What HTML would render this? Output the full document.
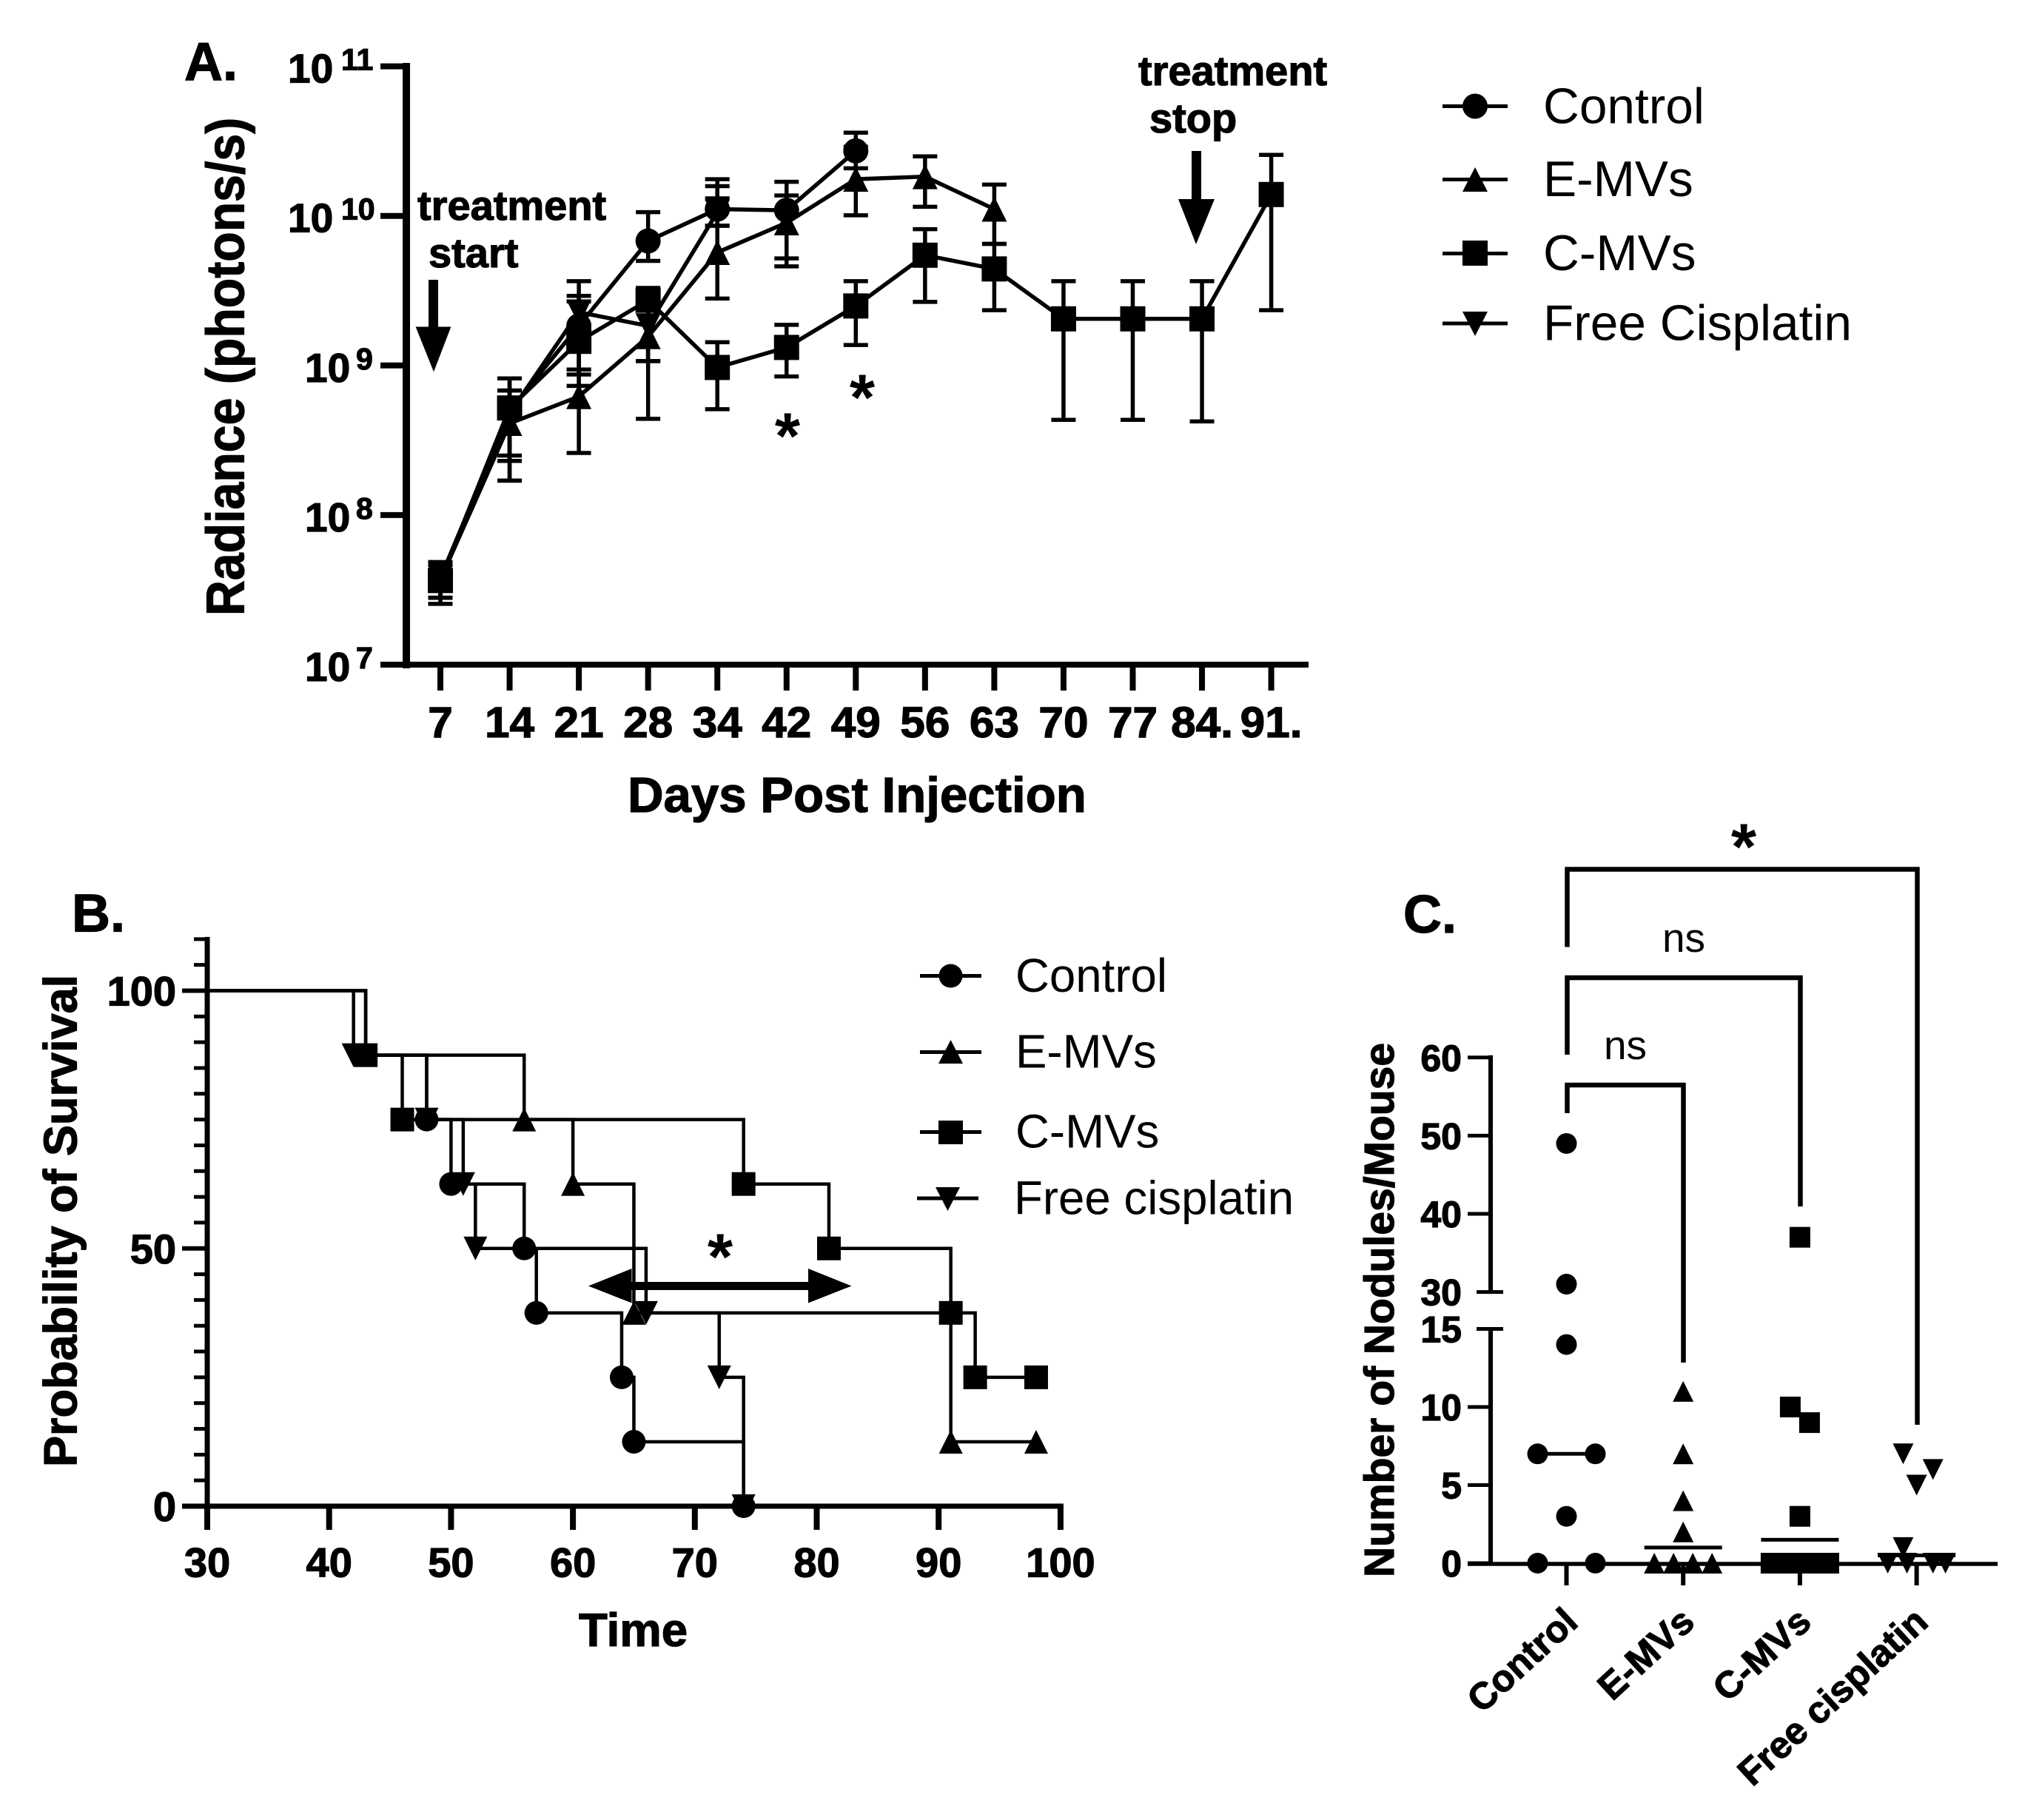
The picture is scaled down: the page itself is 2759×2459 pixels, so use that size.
<!DOCTYPE html>
<html lang="en">
<head>
<meta charset="utf-8">
<title>Radiance, survival and nodules charts</title>
<style>
html,body{margin:0;padding:0;background:#fff;}
svg{display:block;}
text{font-family:"Liberation Sans",sans-serif;fill:#000;}
.b{font-weight:700;stroke:#000;stroke-width:1.2px;}
.s{font-weight:700;}
</style>
</head>
<body>
<svg id="fig" xmlns="http://www.w3.org/2000/svg" width="2759" height="2459" viewBox="0 0 2759 2459">
<rect width="2759" height="2459" fill="#fff"/>

<!-- Panel A static -->
<g id="panelA">
<text class="b" x="249" y="108" font-size="72">A.</text>
<text class="b" font-size="72" transform="translate(329.5,832) rotate(-90) scale(.92,1)">Radiance (photons/s)</text>
<text class="b" x="848" y="1097" font-size="67.2">Days Post Injection</text>
<text class="b" x="564" y="297" font-size="56">treatment</text>
<text class="b" x="579" y="361" font-size="56">start</text>
<path d="M579 378H592V441.5H609.4L586 502.4L561.6 441.5H579Z" fill="#000"/>
<text class="b" x="1538" y="115" font-size="56">treatment</text>
<text class="b" x="1553" y="179" font-size="56">stop</text>
<path d="M1610 204H1623V269H1641L1616 330L1592 269H1610Z" fill="#000"/>
<text class="s" x="1064" y="619" font-size="88" text-anchor="middle">*</text>
<text class="s" x="1165" y="567" font-size="88" text-anchor="middle">*</text>
</g>

<!-- Legend A -->
<g font-size="67.6">
<g>
<path d="M1949 143.5H2037" stroke="#000" stroke-width="5"/><ellipse cx="1993" cy="143.5" rx="17" ry="17"/>
<text x="2085" y="166.5">Control</text></g>
<g>
<path d="M1949 242.5H2037" stroke="#000" stroke-width="5"/><polygon points="1993,226 2010,259 1976,259"/>
<text x="2085" y="265">E-MVs</text></g>
<g>
<path d="M1949 342.5H2037" stroke="#000" stroke-width="5"/><rect x="1976" y="325" width="34" height="34"/>
<text x="2085" y="365">C-MVs</text></g>
<g>
<path d="M1949 437H2037" stroke="#000" stroke-width="5"/><polygon points="1976,421 2010,421 1993,454"/>
<text x="2085" y="459.5">Free Cisplatin</text></g>
</g>

<!-- Panel B static -->
<g id="panelB">
<text class="b" x="97" y="1258.5" font-size="72">B.</text>
<text class="b" font-size="63" transform="translate(103.5,1982) rotate(-90)">Probability of Survival</text>
<text class="b" x="782" y="2224" font-size="63.5">Time</text>
</g>

<!-- Legend B -->
<g font-size="63.6">
<g>
<path d="M1243 1318.5H1326" stroke="#000" stroke-width="5"/><ellipse cx="1284.5" cy="1318.5" rx="16" ry="16"/>
<text x="1372" y="1340">Control</text></g>
<g>
<path d="M1243 1421.5H1326" stroke="#000" stroke-width="5"/><polygon points="1284.5,1405 1301,1437 1268,1437"/>
<text x="1372" y="1442.5">E-MVs</text></g>
<g>
<path d="M1243 1529.5H1326" stroke="#000" stroke-width="5"/><rect x="1268" y="1514" width="33" height="32"/>
<text x="1372" y="1550.5">C-MVs</text></g>
<g>
<path d="M1239 1619H1322" stroke="#000" stroke-width="5"/><polygon points="1264,1604 1297,1604 1280.5,1636"/>
<text x="1370" y="1640.5">Free cisplatin</text></g>
</g>

<!-- Panel C static -->
<g id="panelC">
<text class="b" x="1896" y="1260" font-size="72">C.</text>
<text class="b" font-size="57" transform="translate(1883,2131) rotate(-90)">Number of Nodules/Mouse</text>
<path d="M2117.5 1279.5V1174.5H2590.5V1925" fill="none" stroke="#000" stroke-width="6.5"/>
<path d="M2117.5 1425V1321H2432.5V1630" fill="none" stroke="#000" stroke-width="6.5"/>
<path d="M2117.5 1504V1466H2274.5V1841" fill="none" stroke="#000" stroke-width="6.5"/>
<text class="s" x="2356" y="1174" font-size="88" text-anchor="middle">*</text>
<text x="2275" y="1286" font-size="55" text-anchor="middle">ns</text>
<text x="2196" y="1431" font-size="55" text-anchor="middle">ns</text>
</g>
</svg>

<script>
// ---------- Panel A data (radiance, photons/s) ----------
const aDays = ['7','14','21','28','34','42','49','56','63','70','77','84.','91.'];
const aDecades = [7,8,9,10,11];

const controlMean  = [3.7e7,5.0e8,1.84e9,6.8e9,1.11e10,1.09e10,2.72e10];
const controlUpper = [4.85e7,8.2e8,3.66e9,1.06e10,1.58e10,1.69e10,3.6e10];
const controlLower = [2.8e7,2.3e8,9.4e8,5.0e9,8.6e9,5.2e9,2.08e10];

const eMvsMean  = [3.7e7,4.1e8,6.2e8,1.56e9,5.7e9,9.0e9,1.76e10,1.83e10,1.11e10];
const eMvsUpper = [4.65e7,6.8e8,9.4e8,2.37e9,1.31e10,1.37e10,2.9e10,2.5e10,1.62e10];
const eMvsLower = [2.8e7,1.7e8,2.6e8,1.07e9,2.8e9,4.6e9,1.01e10,1.15e10,6.5e9];

const cMvsMean  = [3.65e7,5.2e8,1.45e9,2.73e9,9.7e8,1.32e9,2.5e9,5.46e9,4.42e9,2.05e9,2.05e9,2.05e9,1.39e10];
const cMvsUpper = [4.65e7,8.2e8,2.92e9,3.3e9,1.43e9,1.87e9,3.66e9,8.15e9,6.5e9,3.66e9,3.66e9,3.66e9,2.56e10];
const cMvsLower = [2.55e7,1.7e8,7.3e8,4.4e8,5.1e8,8.45e8,1.37e9,2.66e9,2.34e9,4.33e8,4.33e8,4.23e8,2.34e9];

const freeMean  = [3.8e7,4.8e8,2.27e9,1.84e9,1.06e10];
const freeUpper = [4.65e7,6.8e8,2.68e9,2.57e9,1.76e10];
const freeLower = [2.8e7,2.5e8,8.7e8,1.07e9,8.6e9];

// ---------- Panel B data (Kaplan-Meier) ----------
const bXTicks = [30,40,50,60,70,80,90,100];
const bYLabels = [0,50,100];
const kmControlTime = [30,43,48,50,56,57,64,65,74];
const kmControlSurv = [100,87.5,75,62.5,50,37.5,25,12.5,0];
const kmEMvsTime = [30,43,56,60,65,91,98];
const kmEMvsSurv = [100,87.5,75,62.5,37.5,12.5,12.5];
const kmCMvsTime = [30,43,46,74,81,91,93,98];
const kmCMvsSurv = [100,87.5,75,62.5,50,37.5,25,25];
const kmFreeTime = [30,42,48,51,52,66,72,74];
const kmFreeSurv = [100,87.5,75,62.5,50,37.5,25,0];

// ---------- Panel C data (nodules per mouse) ----------
const cCategories = ['Control','E-MVs','C-MVs','Free cisplatin'];
const cYTicks = [0,5,10,15,30,40,50,60];
const nodControl = [49,31,14,7,7,3,0,0];
const nodEMvs = [11,7,4,2,0,0,0,0];
const nodCMvs = [37,10,9,3,0,0,0,0];
const nodFree = [7,6,5,1,0,0,0,0];
const swarmControl = [0,0,0,-3,3,0,-3,3];
const swarmEMvs = [0,0,0,0,-3,-1,1,3];
const swarmCMvs = [0,-1,1,0,-3,-1,1,3];
const swarmFree = [-1.4,1.7,0,-1.4,-3,-1,1.7,3];
const nodCentre = [7,1,1.5,0.5];

// ---------- helpers ----------
const NS = 'http://www.w3.org/2000/svg';
const fig = document.getElementById('fig');
const panelA = document.getElementById('panelA');
const panelB = document.getElementById('panelB');
const panelC = document.getElementById('panelC');

function mk(tag, attrs, parent) {
  const el = document.createElementNS(NS, tag);
  for (const k in attrs) el.setAttribute(k, attrs[k]);
  parent.appendChild(el);
  return el;
}
function markerEl(kind, cx, cy, w, h, parent) {
  if (kind === 'circle') return mk('ellipse', {cx: cx, cy: cy, rx: w/2, ry: h/2}, parent);
  if (kind === 'square') return mk('rect', {x: cx-w/2, y: cy-h/2, width: w, height: h}, parent);
  if (kind === 'up') return mk('polygon', {points: [cx, cy-h/2, cx+w/2, cy+h/2, cx-w/2, cy+h/2].join(' ')}, parent);
  return mk('polygon', {points: [cx-w/2, cy-h/2, cx+w/2, cy-h/2, cx, cy+h/2].join(' ')}, parent);
}

// ---------- Panel A scales ----------
const xA = i => 595 + i * 93.55;
const yA = v => 898 - 202.1 * (Math.log10(v) - 7);

let el;
el = mk('path', {d: 'M549 85V903', stroke: '#000', 'stroke-width': 10, fill: 'none'}, panelA);


el = mk('path', {d: 'M514 898H1768', stroke: '#000', 'stroke-width': 8, fill: 'none'}, panelA);



aDecades.forEach(function (d) {
  const y = yA(Math.pow(10, d));
  let t = mk('path', {d: 'M514 ' + y + 'H549', stroke: '#000', 'stroke-width': 8}, panelA);
  
  
  const two = d >= 10;
  t = mk('text', {x: two ? 389 : 412, y: y + 22, 'font-size': 55, 'class': 'b'}, panelA);
  t.textContent = '10';
  
  
  t = mk('text', {x: two ? 461 : 481, y: y + 5, 'font-size': 41, 'class': 'b'}, panelA);
  t.textContent = String(d);
  
  
});

aDays.forEach(function (d, i) {
  const x = xA(i);
  let t = mk('path', {d: 'M' + x + ' 898V933', stroke: '#000', 'stroke-width': 8}, panelA);
  
  
  t = mk('text', {'font-size': 58, 'class': 'b', 'text-anchor': 'middle', transform: 'translate(' + x + ',996) scale(1.04,1)'}, panelA);
  t.textContent = d;
  
  
});

const aSeries = [
  {key: 'control', kind: 'circle', mean: controlMean, up: controlUpper, lo: controlLower},
  {key: 'e-mvs', kind: 'up', mean: eMvsMean, up: eMvsUpper, lo: eMvsLower},
  {key: 'c-mvs', kind: 'square', mean: cMvsMean, up: cMvsUpper, lo: cMvsLower},
  {key: 'free-cisplatin', kind: 'down', mean: freeMean, up: freeUpper, lo: freeLower}
];
aSeries.forEach(function (s) {
  s.mean.forEach(function (v, i) {
    const x = xA(i);
    const top = yA(s.up[i]), bot = yA(s.lo[i]);
    const bar = mk('path', {
      d: 'M' + x + ' ' + top + 'V' + bot + 'M' + (x-16.5) + ' ' + top + 'H' + (x+16.5) + 'M' + (x-16.5) + ' ' + bot + 'H' + (x+16.5),
      stroke: '#000', 'stroke-width': 5.5, fill: 'none'}, panelA);
    
    
  });
  const line = mk('polyline', {
    points: s.mean.map(function (v, i) { return xA(i) + ',' + yA(v); }).join(' '),
    fill: 'none', stroke: '#000', 'stroke-width': 5.5}, panelA);
  
  
  s.mean.forEach(function (v, i) {
    const m = markerEl(s.kind, xA(i), yA(v), 34, 34, panelA);
    
    
  });
});

// ---------- Panel B scales ----------
const xB = t => 280 + (t - 30) * 16.47;
const yB = p => 2035 - p * 6.965;

el = mk('path', {d: 'M280 ' + (yB(110) - 3) + 'V2039', stroke: '#000', 'stroke-width': 7, fill: 'none'}, panelB);


el = mk('path', {d: 'M246 2035H' + (xB(100) + 4), stroke: '#000', 'stroke-width': 7, fill: 'none'}, panelB);



for (let p = 5; p <= 110; p += 5) {
  if (bYLabels.indexOf(p) >= 0) continue;
  const t = mk('path', {d: 'M262 ' + yB(p) + 'H280', stroke: '#000', 'stroke-width': 5}, panelB);
  
  
}
bYLabels.forEach(function (p) {
  let t = mk('path', {d: 'M246 ' + yB(p) + 'H280', stroke: '#000', 'stroke-width': 6}, panelB);
  
  
  t = mk('text', {x: 238, y: yB(p) + 20, 'font-size': 56, 'class': 'b', 'text-anchor': 'end'}, panelB);
  t.textContent = String(p);
  
  
});
bXTicks.forEach(function (v) {
  let t = mk('path', {d: 'M' + xB(v) + ' 2035V2067', stroke: '#000', 'stroke-width': 8}, panelB);
  
  
  t = mk('text', {x: xB(v), y: 2130.5, 'font-size': 56, 'class': 'b', 'text-anchor': 'middle'}, panelB);
  t.textContent = String(v);
  
  
});

const bSeries = [
  {key: 'km-control', kind: 'circle', t: kmControlTime, s: kmControlSurv},
  {key: 'km-e-mvs', kind: 'up', t: kmEMvsTime, s: kmEMvsSurv},
  {key: 'km-c-mvs', kind: 'square', t: kmCMvsTime, s: kmCMvsSurv},
  {key: 'km-free-cisplatin', kind: 'down', t: kmFreeTime, s: kmFreeSurv}
];
bSeries.forEach(function (s) {
  let d = 'M' + xB(s.t[0]) + ' ' + yB(s.s[0]);
  for (let i = 1; i < s.t.length; i++) d += 'H' + xB(s.t[i]) + 'V' + yB(s.s[i]);
  const step = mk('path', {d: d, fill: 'none', stroke: '#000', 'stroke-width': 4.5}, panelB);
  
  
  for (let i = 1; i < s.t.length; i++) {
    const m = markerEl(s.kind, xB(s.t[i]), yB(s.s[i]), 32, 32, panelB);
    
    
  }
});

el = mk('path', {d: 'M795 1737.5L853.5 1714V1732H1092V1714L1150.5 1737.5L1092 1760.5V1743H853.5V1760.5Z', fill: '#000'}, panelB);


el = mk('text', {x: 973, y: 1728, 'font-size': 88, 'class': 's', 'text-anchor': 'middle'}, panelB);
el.textContent = '*';



// ---------- Panel C scales ----------
const xC = i => 2116.5 + i * 157.7;
const yC = v => v <= 15 ? 2112 - 21.1 * v : 1745.6 - (v - 30) * 10.56;

el = mk('path', {d: 'M2014 ' + (yC(60) - 3) + 'V' + yC(30), stroke: '#000', 'stroke-width': 6, fill: 'none'}, panelC);


el = mk('path', {d: 'M2014 ' + yC(15) + 'V2112', stroke: '#000', 'stroke-width': 6, fill: 'none'}, panelC);


el = mk('path', {d: 'M1983 2113H2699', stroke: '#000', 'stroke-width': 5.5, fill: 'none'}, panelC);



cYTicks.forEach(function (v) {
  const y = yC(v);
  const brk = (v === 30 || v === 15);
  let t = mk('path', {d: 'M' + (brk ? 1995 : 1983) + ' ' + y + 'H' + (brk ? 2031 : 2014), stroke: '#000', 'stroke-width': 5}, panelC);
  
  
  t = mk('text', {x: 1975, y: y + 18, 'font-size': 50, 'class': 'b', 'text-anchor': 'end'}, panelC);
  t.textContent = String(v);
  
  
});

cCategories.forEach(function (c, i) {
  let t = mk('path', {d: 'M' + xC(i) + ' 2112V2142', stroke: '#000', 'stroke-width': 6}, panelC);
  
  
  t = mk('text', {'font-size': 50.5, 'class': 'b', 'text-anchor': 'end', transform: 'translate(' + (xC(i) + 18) + ',2195) rotate(-42.5)'}, panelC);
  t.textContent = c;
  
  
});

const cSeries = [
  {key: 'nodules-control', kind: 'circle', v: nodControl, s: swarmControl},
  {key: 'nodules-e-mvs', kind: 'up', v: nodEMvs, s: swarmEMvs},
  {key: 'nodules-c-mvs', kind: 'square', v: nodCMvs, s: swarmCMvs},
  {key: 'nodules-free-cisplatin', kind: 'down', v: nodFree, s: swarmFree}
];
cSeries.forEach(function (s, i) {
  s.v.forEach(function (v, j) {
    const m = markerEl(s.kind, xC(i) + s.s[j] * 13, yC(v), 28, 28, panelC);
    
    
  });
  const y = yC(nodCentre[i]);
  const bar = mk('path', {d: 'M' + (xC(i) - 52.5) + ' ' + y + 'H' + (xC(i) + 52.5), stroke: '#000', 'stroke-width': 5}, panelC);
  
  
});
</script>
</body>
</html>
